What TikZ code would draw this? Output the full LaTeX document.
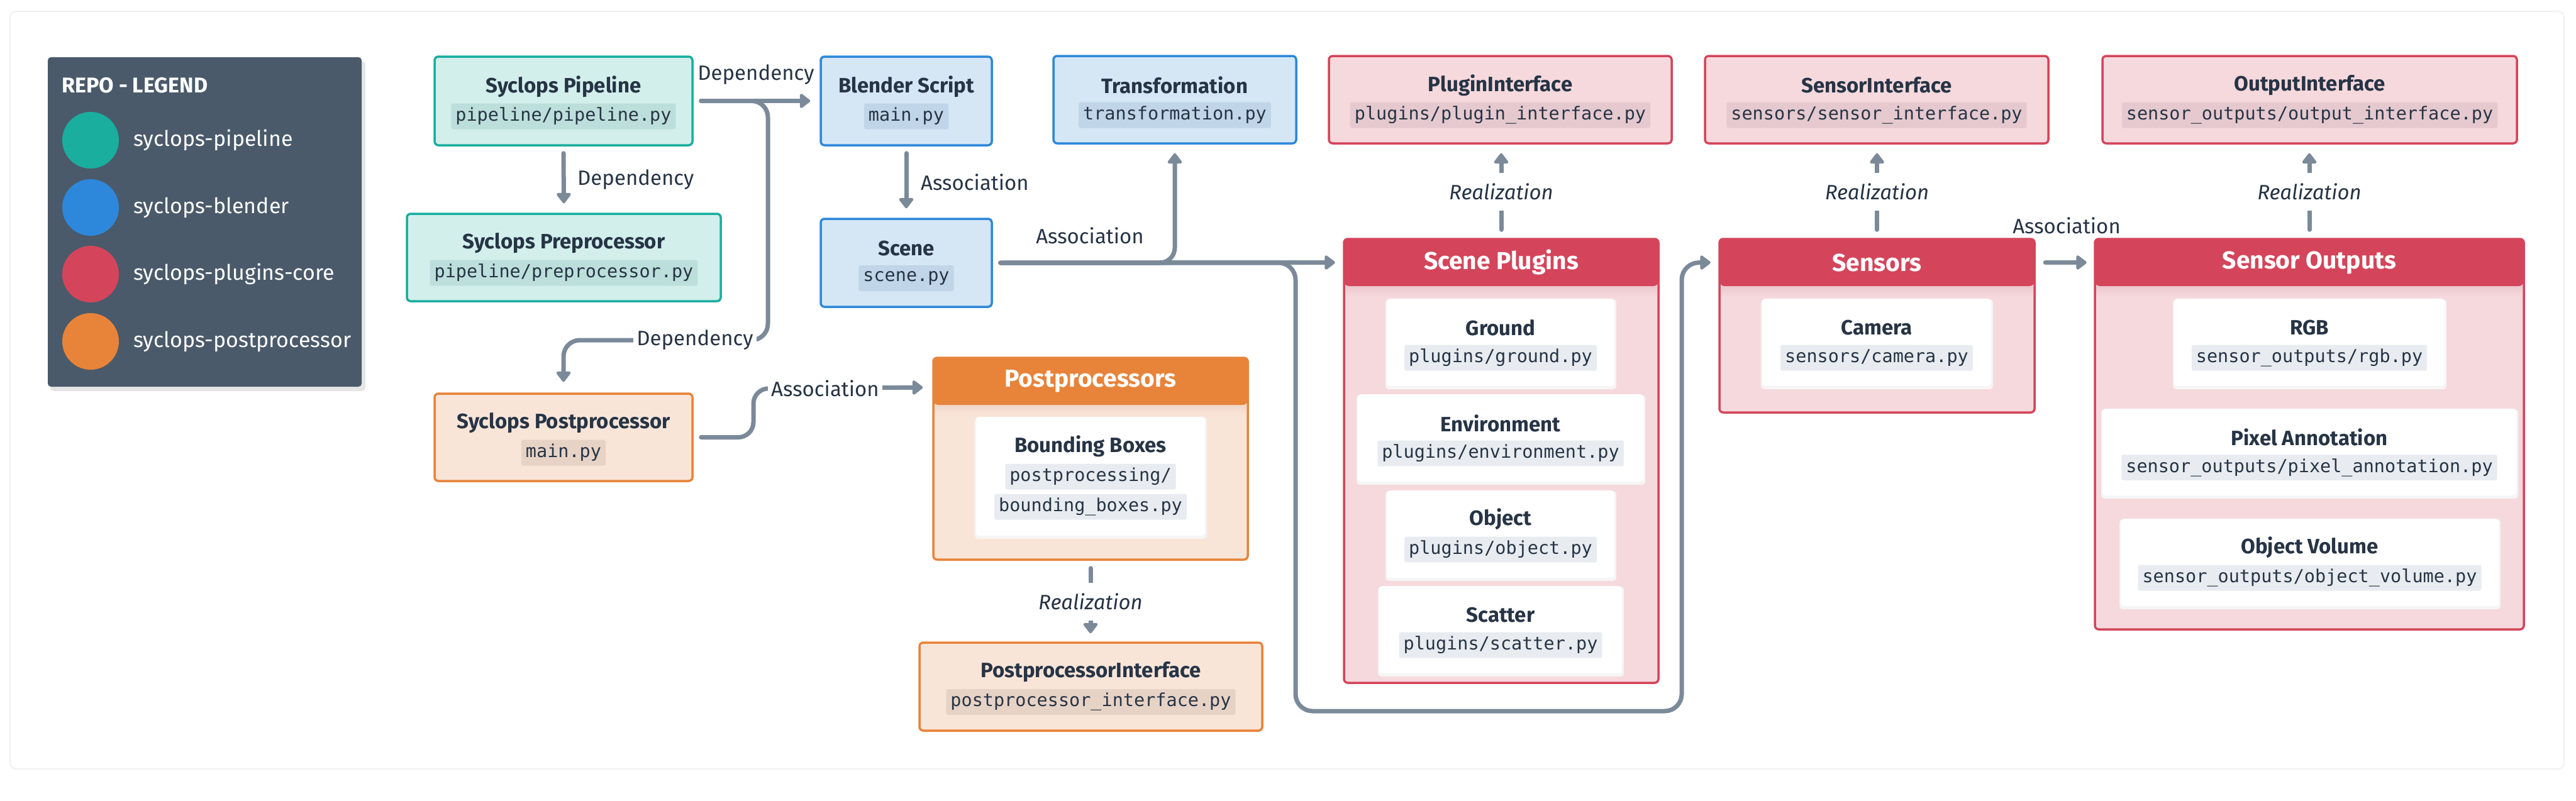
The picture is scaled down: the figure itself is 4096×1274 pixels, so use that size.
\documentclass[tikz,border=0pt]{standalone}
\usepackage{fontspec}
\setmainfont{Fira Sans}
\newfontfamily\codefont{DejaVu Sans Mono}
\usetikzlibrary{arrows.meta,calc,fit}
\definecolor{txt}{HTML}{263445}
\definecolor{lineC}{HTML}{7B8A99}
\definecolor{legbg}{HTML}{4A5A6A}
\definecolor{tealB}{HTML}{1AAE9F}\definecolor{tealF}{HTML}{D2EFEC}\definecolor{tealC}{HTML}{BDDFDB}
\definecolor{blueB}{HTML}{2D88DB}\definecolor{blueF}{HTML}{D5E6F5}\definecolor{blueC}{HTML}{C0D5E8}
\definecolor{redB}{HTML}{D4455B}\definecolor{redF}{HTML}{F6D9DD}\definecolor{redC}{HTML}{E5C9CE}\definecolor{redS}{HTML}{EBC6CC}
\definecolor{orgB}{HTML}{E8833A}\definecolor{orgF}{HTML}{F9E5D8}\definecolor{orgC}{HTML}{E7D3C6}\definecolor{orgS}{HTML}{EFD6C5}
\definecolor{cardC}{HTML}{E8ECF0}
\newcommand\ubox[8]{%
  \coordinate (#1-a) at (#2,#3);
  \coordinate (#1-b) at (#4,#5);
  \node[box, draw=#6B, fill=#6F, fit=(#1-a)(#1-b)] (#1) {};
  \node[ttl] (#1-t) at ($(#1.center)+(0,-23)$) {#7};
  \node[codeb, fill=#6C] (#1-c) at ($(#1.center)+(0,24.5)$) {#8};
}
\newcommand\ucard[7]{%
  \coordinate (#1-a) at (#2,#3);
  \coordinate (#1-b) at (#4,#5);
  \fill[black!4, rounded corners=5pt] (#2-2,#3+1) rectangle (#4+3,#5+5);
  \node[card, fit=(#1-a)(#1-b)] (#1) {};
  \node[ttl] (#1-t) at ($(#1.center)+(0,-23.5)$) {#6};
  \node[codeb, fill=cardC] (#1-c) at ($(#1.center)+(0,24.5)$) {#7};
}
\newcommand\ucont[7]{%
  \coordinate (#1-a) at (#2,#3);
  \coordinate (#1-b) at (#4,#5);
  \coordinate (#1-hb) at (#4,#3+75);
  \node[box, draw=#6B, fill=#6F, fit=(#1-a)(#1-b)] (#1) {};
  \shade[top color=#6S, bottom color=#6F] (#2+2,#3+72) rectangle (#4-2,#3+92);
  \node[fill=#6B, rounded corners=8pt, inner sep=0pt, fit=(#1-a)(#1-hb)] (#1-h) {};
  \node[hdr] (#1-ht) at (#1-h.center) {#7};
}
\begin{document}
\begin{tikzpicture}[x=1pt,y=-1pt,
  box/.style={draw, line width=3.5pt, rounded corners=6pt, inner sep=0pt},
  ttl/.style={font=\fontsize{33}{40}\selectfont\bfseries, text=txt, inner sep=0pt},
  hdr/.style={font=\fontsize{39}{46}\selectfont\bfseries, text=white, inner sep=0pt},
  codeb/.style={font=\codefont\fontsize{28.5}{34}\selectfont, text=txt, inner xsep=7pt, inner ysep=0pt, minimum height=41pt, rounded corners=3pt},
  card/.style={fill=white, rounded corners=5pt, inner sep=0pt},
  lbl/.style={font=\fontsize{33}{40}\selectfont, text=txt, inner sep=2pt},
  onlbl/.style={lbl, fill=white, inner xsep=5pt, inner ysep=6pt},
  rlbl/.style={font=\fontsize{33}{40}\selectfont\itshape, text=txt, fill=white, inner xsep=4pt, inner ysep=17pt},
  link/.style={draw=lineC, line width=7pt, line cap=round, -{Triangle[length=18pt,width=26pt,round]}},
  legtxt/.style={anchor=west, font=\fontsize{34}{40}\selectfont, text=white, inner sep=0pt},
  legdot/.style={circle, minimum size=90pt, inner sep=0pt}
]
\fill[white] (0,0) rectangle (4096,1274);
\useasboundingbox (0,0) rectangle (4096,1274);
\draw[draw=black!6, line width=2pt, fill=white, rounded corners=10pt] (16,18) rectangle (4077,1223);

% legend
\coordinate (lg-a) at (76,91); \coordinate (lg-b) at (575,615);
\fill[black!10, rounded corners=6pt] (80,97) rectangle (581,622);
\node[fill=legbg, rounded corners=5pt, inner sep=0pt, fit=(lg-a)(lg-b)] (legend) {};
\node[anchor=west, font=\fontsize{34}{40}\selectfont\bfseries, text=white, inner sep=0pt] (legtitle) at (98,136) {REPO - LEGEND};
\node[legdot, fill=tealB] (ld1) at (144,223) {};
\node[legdot, fill=blueB] (ld2) at (144,330) {};
\node[legdot, fill=redB] (ld3) at (144,436) {};
\node[legdot, fill=orgB] (ld4) at (144,543) {};
\node[legtxt] (lt1) at (212,223) {syclops-pipeline};
\node[legtxt] (lt2) at (212,330) {syclops-blender};
\node[legtxt] (lt3) at (212,436) {syclops-plugins-core};
\node[legtxt] (lt4) at (212,543) {syclops-postprocessor};

% simple boxes
\ubox{pip}{691}{90}{1101}{231}{teal}{Syclops Pipeline}{pipeline/pipeline.py}
\ubox{pre}{647}{340}{1146}{479}{teal}{Syclops Preprocessor}{pipeline/preprocessor.py}
\ubox{post}{691}{626}{1101}{765}{org}{Syclops Postprocessor}{main.py}
\ubox{bl}{1305}{90}{1577}{231}{blue}{Blender Script}{main.py}
\ubox{scene}{1305}{348}{1577}{488}{blue}{Scene}{scene.py}
\ubox{tr}{1675}{89}{2061}{228}{blue}{Transformation}{transformation.py}
\ubox{pi}{2113}{89}{2658}{228}{red}{PluginInterface}{plugins/plugin\_interface.py}
\ubox{si}{2711}{89}{3257}{228}{red}{SensorInterface}{sensors/sensor\_interface.py}
\ubox{oi}{3343}{89}{4002}{228}{red}{OutputInterface}{sensor\_outputs/output\_interface.py}
\ubox{ppi}{1462}{1022}{2007}{1162}{org}{PostprocessorInterface}{postprocessor\_interface.py}

% containers
\ucont{sp}{2137}{380}{2637}{1086}{red}{Scene Plugins}
\ucont{sens}{2734}{380}{3235}{656}{red}{Sensors}
\ucont{so}{3331}{380}{4013}{1001}{red}{Sensor Outputs}
\ucont{pp}{1484}{569}{1984}{890}{org}{Postprocessors}

% cards
\ucard{gr}{2205}{475}{2567}{614}{Ground}{plugins/ground.py}
\ucard{env}{2159}{627}{2613}{766}{Environment}{plugins/environment.py}
\ucard{obj}{2205}{780}{2567}{919}{Object}{plugins/object.py}
\ucard{sc}{2193}{932}{2579}{1071}{Scatter}{plugins/scatter.py}
\ucard{cam}{2802}{475}{3166}{614}{Camera}{sensors/camera.py}
\ucard{rgb}{3457}{475}{3887}{614}{RGB}{sensor\_outputs/rgb.py}
\ucard{pix}{3343}{650}{4001}{788}{Pixel Annotation}{sensor\_outputs/pixel\_annotation.py}
\ucard{ov}{3372}{825}{3973}{964}{Object Volume}{sensor\_outputs/object\_volume.py}
\coordinate (bb-a) at (1552,663); \coordinate (bb-b) at (1916,852);
\fill[black!4, rounded corners=5pt] (1550,664) rectangle (1919,857);
\node[card, fit=(bb-a)(bb-b)] (bb) {};
\node[ttl] (bb-t) at ($(bb.center)+(0,-47.5)$) {Bounding Boxes};
\node[codeb, fill=cardC] (bb-c1) at ($(bb.center)+(0,0.5)$) {postprocessing/};
\node[codeb, fill=cardC] (bb-c2) at ($(bb.center)+(0,48.5)$) {bounding\_boxes.py};

% connectors
\draw[link] ($(pip.east)+(12,0)$) -- ($(bl.west)+(-15,0)$);
\node[lbl] (d1) at (1202,119) {Dependency};
\draw[link, rounded corners=26pt] ($(pip.east)+(12,0)$) -| (1221,541) -| ($(post.north)+(0,-17)$);
\node[onlbl] (d2) at (1105,541) {Dependency};
\draw[link] ($(pip.south)+(0,11)$) -- ($(pre.north)+(0,-15)$);
\node[lbl, anchor=west] (d3) at (916,286) {Dependency};

\draw[link] ($(bl.south)+(0,11)$) -- ($(scene.north)+(0,-15)$);
\node[lbl, anchor=west] (a1) at (1462,290) {Association};

\draw[link, rounded corners=24pt] ($(scene.east)+(12,0)$) -| ($(tr.south)+(0,14)$);
\draw[link, rounded corners=27pt] ($(scene.east)+(12,0)$) -| (2060,1131) -| (2674,418) -- ($(sens-h.west)+(-14,0)$);
\draw[link] ($(scene.east)+(12,0)$) -- ($(sp-h.west)+(-14,0)$);
\node[lbl] (a2) at (1733,375) {Association};

\draw[link, rounded corners=24pt] ($(post.east)+(12,0)$) -| (1198,618) -- ($(pp.north west)+(-15,49)$);
\node[onlbl] (a3) at (1312,618) {Association};

\draw[link] ($(sens-h.east)+(17,0)$) -- ($(so-h.west)+(-13,0)$);
\node[lbl] (a4) at (3286,359) {Association};

\draw[link] ($(sp.north)+(0,-13)$) -- ($(sp.north |- pi.south)+(0,14)$);
\node[rlbl] (r1) at ($(sp.north)+(0,-73)$) {Realization};
\draw[link] ($(sens.north)+(0,-13)$) -- ($(sens.north |- si.south)+(0,14)$);
\node[rlbl] (r2) at ($(sens.north)+(0,-73)$) {Realization};
\draw[link] ($(so.north)+(0,-13)$) -- ($(so.north |- oi.south)+(0,14)$);
\node[rlbl] (r3) at ($(so.north)+(0,-73)$) {Realization};
\draw[link] ($(pp.south)+(0,12)$) -- ($(pp.south |- ppi.north)+(0,-13)$);
\node[rlbl] (r4) at ($(pp.south)+(0,65)$) {Realization};
\end{tikzpicture}
\end{document}
